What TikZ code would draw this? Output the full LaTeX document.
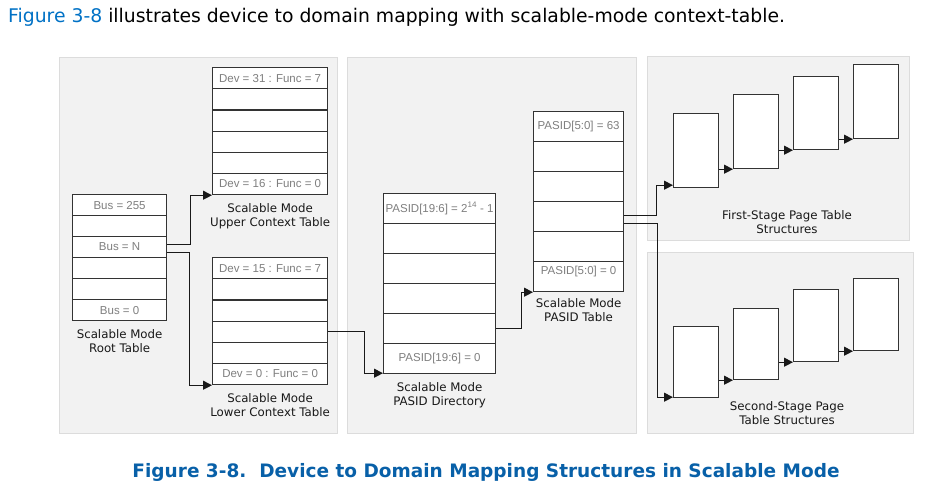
\documentclass[tikz,border=0pt]{standalone}
\usepackage{fontspec}
\setmainfont{DejaVu Sans}
\newfontfamily\arialf{Liberation Sans}
\usetikzlibrary{arrows.meta,calc}
\definecolor{panelfill}{HTML}{F2F2F2}
\definecolor{panelline}{HTML}{DCDCDC}
\definecolor{lblgray}{HTML}{7F7F7F}
\definecolor{linkblue}{HTML}{0071C5}
\definecolor{capblue}{HTML}{0860A8}
\definecolor{boxline}{HTML}{333333}
\begin{document}
\begin{tikzpicture}[x=1pt,y=-1pt,
  panel/.style={fill=panelfill,draw=panelline,line width=1pt},
  cell/.style={draw=boxline,fill=white,line width=1.2pt,inner sep=0pt,anchor=north west,
    font=\arialf\fontsize{11.5}{13}\selectfont,text=lblgray},
  stagebox/.style={draw=boxline,fill=white,line width=1.2pt,inner sep=0pt,anchor=north west,minimum width=45pt},
  capt/.style={align=center,inner sep=0pt,font=\fontsize{11.8}{14}\selectfont,text=black!90},
  arr/.style={-{Triangle[length=9pt,width=9pt]},line width=1.1pt,draw=black!90}
]
\useasboundingbox (0,0) rectangle (925,494);
% panels
\fill[panel] (59,58) rectangle (337,433);
\fill[panel] (347,58) rectangle (636,433);
\fill[panel] (647,57) rectangle (909,240);
\fill[panel] (647,252) rectangle (913,433);
% top text
\node[anchor=base west,inner sep=0pt,font=\fontsize{18.8}{21}\selectfont] (intro) at (8,23)
  {\textcolor{linkblue}{Figure 3-8} illustrates device to domain mapping with scalable-mode context-table.};
% root table
\foreach \i/\t in {1/Bus = 255,2/,3/Bus = N,4/,5/,6/Bus = 0}
  \node[cell,minimum width=94pt,minimum height=21pt] (root\i) at (72,{194+(\i-1)*21}) {\t};
\node[capt,anchor=north] (rootcap) at ([yshift=-8pt]root6.south) {Scalable Mode\\Root Table};
% upper context table
\foreach \i/\t in {1/Dev = 31 : Func = 7,2/,3/,4/,5/,6/Dev = 16 : Func = 0}
  \node[cell,minimum width=115pt,minimum height=21.17pt] (upc\i) at (212,{67+(\i-1)*21.17}) {\t};
\node[capt,anchor=north] (upccap) at ([yshift=-8pt]upc6.south) {Scalable Mode\\Upper Context Table};
% lower context table
\foreach \i/\t in {1/Dev = 15 : Func = 7,2/,3/,4/,5/,6/Dev = 0 : Func = 0}
  \node[cell,minimum width=115pt,minimum height=21.17pt] (lowc\i) at (212,{257+(\i-1)*21.17}) {\t};
\node[capt,anchor=north] (lowccap) at ([yshift=-8pt]lowc6.south) {Scalable Mode\\Lower Context Table};
% PASID directory
\foreach \i/\t in {1/{PASID[19:6] = 2\textsuperscript{14} - 1},2/,3/,4/,5/,6/PASID[19:6] = 0}
  \node[cell,minimum width=112pt,minimum height=30pt] (pd\i) at (383,{193+(\i-1)*30}) {\t};
\node[capt,anchor=north] (pdcap) at ([yshift=-8pt]pd6.south) {Scalable Mode\\PASID Directory};
% PASID table
\foreach \i in {1,...,6}
  \node[cell,minimum width=90pt,minimum height=30pt] (pt\i) at (533,{111+(\i-1)*30}) {};
\node[font=\arialf\fontsize{11.5}{13}\selectfont,text=lblgray,inner sep=0pt] (pttop) at (pt1.center) {PASID[5:0] = 63};
\node[font=\arialf\fontsize{11.5}{13}\selectfont,text=lblgray,inner sep=0pt] (ptbot) at ([yshift=5pt]pt6.center) {PASID[5:0] = 0};
\node[capt,anchor=north] (ptcap) at ([yshift=-6pt]pt6.south) {Scalable Mode\\PASID Table};
% first-stage
\node[stagebox,minimum height=74pt] (fs1) at (673,113) {};
\node[stagebox,minimum height=74pt] (fs2) at (733,94) {};
\node[stagebox,minimum height=73pt] (fs3) at (793,76) {};
\node[stagebox,minimum height=74pt] (fs4) at (853,64) {};
\node[capt] (fscap) at (787,222) {First-Stage Page Table\\Structures};
% second-stage
\node[stagebox,minimum height=71pt] (ss1) at (673,326) {};
\node[stagebox,minimum height=71pt] (ss2) at (733,308) {};
\node[stagebox,minimum height=72pt] (ss3) at (793,289) {};
\node[stagebox,minimum height=72pt] (ss4) at (853,278) {};
\node[capt] (sscap) at (787,413) {Second-Stage Page\\Table Structures};
% connectors
\draw[arr] ([yshift=2.5pt]root3.east) -- ++(23,0) |- (upc6.south west);
\draw[arr] ([yshift=-5.5pt]root3.east) -- ++(22,0) |- (lowc6.south west);
\draw[arr] (lowc4.east) -- ++(36,0) |- ([yshift=1pt]pd6.south west);
\draw[arr] (pd5.east) -- ++(25,0) |- (pt6.south west);
\draw[arr] ([yshift=1pt]pt4.east) -- ++(32,0) |- ([yshift=3pt]fs1.south west);
\draw[arr] ([yshift=-7pt]pt4.east) -- ++(33,0) |- ([yshift=1pt]ss1.south west);
\draw[arr] (fs1.east |- fs2.south west) -- (fs2.south west);
\draw[arr] (fs2.east |- fs3.south west) -- (fs3.south west);
\draw[arr] (fs3.east |- fs4.south west) -- (fs4.south west);
\draw[arr] (ss1.east |- ss2.south west) -- (ss2.south west);
\draw[arr] (ss2.east |- ss3.south west) -- (ss3.south west);
\draw[arr] (ss3.east |- ss4.south west) -- (ss4.south west);
% caption
\node[anchor=base,inner sep=0pt,font=\bfseries\fontsize{18.5}{21}\selectfont,text=capblue] (figcap) at (486,477)
  {Figure 3-8.\ \ Device to Domain Mapping Structures in Scalable Mode};
\end{tikzpicture}
\end{document}
